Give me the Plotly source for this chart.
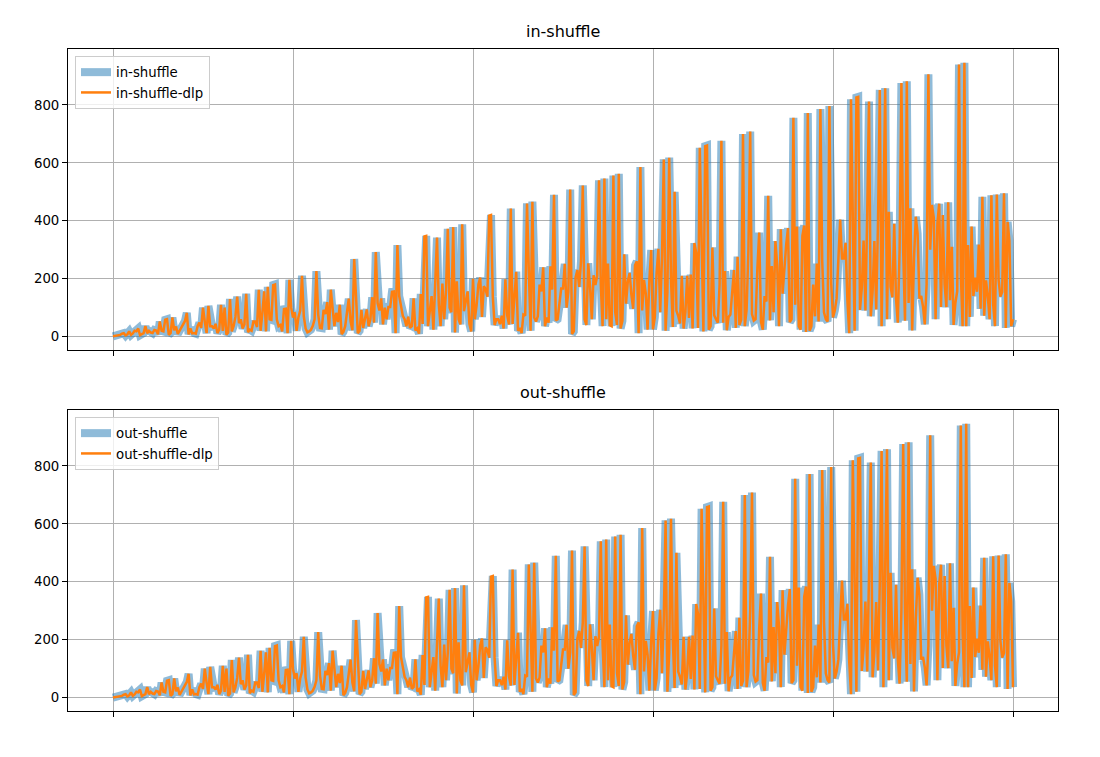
import plotly.graph_objects as go

# shuffles needed to restore a deck of 2n cards, n = 0..500
n_values = list(range(501))

in_shuffle = [
    1, 2, 4, 3, 6, 10, 12, 4, 8, 18,
    6, 11, 20, 18, 28, 5, 10, 12, 36, 12,
    20, 14, 12, 23, 21, 8, 52, 20, 18, 58,
    60, 6, 12, 66, 22, 35, 9, 20, 30, 39,
    54, 82, 8, 28, 11, 12, 10, 36, 48, 30,
    100, 51, 12, 106, 36, 36, 28, 44, 12, 24,
    110, 20, 100, 7, 14, 130, 18, 36, 68, 138,
    46, 60, 28, 42, 148, 15, 24, 20, 52, 52,
    33, 162, 20, 83, 156, 18, 172, 60, 58, 178,
    180, 60, 36, 40, 18, 95, 96, 12, 196, 99,
    66, 84, 20, 66, 90, 210, 70, 28, 15, 18,
    24, 37, 60, 226, 76, 30, 29, 92, 78, 119,
    24, 162, 84, 36, 82, 50, 110, 8, 16, 36,
    84, 131, 52, 22, 268, 135, 12, 20, 92, 30,
    70, 94, 36, 60, 136, 48, 292, 116, 90, 132,
    42, 100, 60, 102, 102, 155, 156, 12, 316, 140,
    106, 72, 60, 36, 69, 30, 36, 132, 21, 28,
    10, 147, 44, 346, 348, 36, 88, 140, 24, 179,
    342, 110, 36, 183, 60, 156, 372, 100, 84, 378,
    14, 191, 60, 42, 388, 88, 130, 156, 44, 18,
    200, 60, 108, 180, 204, 68, 174, 164, 138, 418,
    420, 138, 40, 60, 60, 43, 72, 28, 198, 73,
    42, 442, 44, 148, 224, 20, 30, 12, 76, 72,
    460, 231, 20, 466, 66, 52, 70, 180, 156, 239,
    36, 66, 48, 243, 162, 490, 56, 60, 105, 166,
    166, 251, 100, 156, 508, 9, 18, 204, 230, 172,
    260, 522, 60, 40, 253, 174, 60, 212, 178, 210,
    540, 180, 36, 546, 60, 252, 39, 36, 556, 84,
    40, 562, 28, 54, 284, 114, 190, 220, 144, 96,
    246, 260, 12, 586, 90, 196, 148, 24, 198, 299,
    25, 66, 220, 303, 84, 276, 612, 20, 154, 618,
    198, 33, 500, 90, 72, 45, 210, 28, 84, 210,
    64, 214, 28, 323, 290, 30, 652, 260, 18, 658,
    660, 24, 36, 308, 74, 60, 48, 180, 676, 48,
    226, 22, 68, 76, 156, 230, 30, 276, 40, 58,
    700, 36, 92, 300, 708, 78, 55, 60, 238, 359,
    51, 24, 140, 121, 486, 56, 244, 84, 330, 246,
    36, 371, 148, 246, 318, 375, 50, 60, 756, 110,
    380, 36, 24, 348, 384, 16, 772, 20, 36, 180,
    70, 252, 52, 786, 262, 84, 60, 52, 796, 184,
    66, 90, 132, 268, 404, 270, 270, 324, 126, 12,
    820, 411, 20, 826, 828, 92, 168, 332, 90, 419,
    812, 70, 156, 330, 94, 396, 852, 36, 428, 858,
    60, 431, 172, 136, 390, 132, 48, 300, 876, 292,
    55, 882, 116, 443, 21, 270, 414, 356, 132, 140,
    104, 42, 180, 906, 300, 455, 410, 60, 390, 459,
    102, 420, 180, 102, 464, 126, 310, 40, 117, 156,
    940, 220, 36, 946, 36, 316, 68, 380, 140, 204,
    155, 318, 96, 483, 72, 194, 138, 60, 488, 110,
    36, 491, 196, 138, 154, 495, 30, 396, 332, 36,
    60,
]

out_shuffle = [
    0,
    1, 2, 4, 3, 6, 10, 12, 4, 8, 18,
    6, 11, 20, 18, 28, 5, 10, 12, 36, 12,
    20, 14, 12, 23, 21, 8, 52, 20, 18, 58,
    60, 6, 12, 66, 22, 35, 9, 20, 30, 39,
    54, 82, 8, 28, 11, 12, 10, 36, 48, 30,
    100, 51, 12, 106, 36, 36, 28, 44, 12, 24,
    110, 20, 100, 7, 14, 130, 18, 36, 68, 138,
    46, 60, 28, 42, 148, 15, 24, 20, 52, 52,
    33, 162, 20, 83, 156, 18, 172, 60, 58, 178,
    180, 60, 36, 40, 18, 95, 96, 12, 196, 99,
    66, 84, 20, 66, 90, 210, 70, 28, 15, 18,
    24, 37, 60, 226, 76, 30, 29, 92, 78, 119,
    24, 162, 84, 36, 82, 50, 110, 8, 16, 36,
    84, 131, 52, 22, 268, 135, 12, 20, 92, 30,
    70, 94, 36, 60, 136, 48, 292, 116, 90, 132,
    42, 100, 60, 102, 102, 155, 156, 12, 316, 140,
    106, 72, 60, 36, 69, 30, 36, 132, 21, 28,
    10, 147, 44, 346, 348, 36, 88, 140, 24, 179,
    342, 110, 36, 183, 60, 156, 372, 100, 84, 378,
    14, 191, 60, 42, 388, 88, 130, 156, 44, 18,
    200, 60, 108, 180, 204, 68, 174, 164, 138, 418,
    420, 138, 40, 60, 60, 43, 72, 28, 198, 73,
    42, 442, 44, 148, 224, 20, 30, 12, 76, 72,
    460, 231, 20, 466, 66, 52, 70, 180, 156, 239,
    36, 66, 48, 243, 162, 490, 56, 60, 105, 166,
    166, 251, 100, 156, 508, 9, 18, 204, 230, 172,
    260, 522, 60, 40, 253, 174, 60, 212, 178, 210,
    540, 180, 36, 546, 60, 252, 39, 36, 556, 84,
    40, 562, 28, 54, 284, 114, 190, 220, 144, 96,
    246, 260, 12, 586, 90, 196, 148, 24, 198, 299,
    25, 66, 220, 303, 84, 276, 612, 20, 154, 618,
    198, 33, 500, 90, 72, 45, 210, 28, 84, 210,
    64, 214, 28, 323, 290, 30, 652, 260, 18, 658,
    660, 24, 36, 308, 74, 60, 48, 180, 676, 48,
    226, 22, 68, 76, 156, 230, 30, 276, 40, 58,
    700, 36, 92, 300, 708, 78, 55, 60, 238, 359,
    51, 24, 140, 121, 486, 56, 244, 84, 330, 246,
    36, 371, 148, 246, 318, 375, 50, 60, 756, 110,
    380, 36, 24, 348, 384, 16, 772, 20, 36, 180,
    70, 252, 52, 786, 262, 84, 60, 52, 796, 184,
    66, 90, 132, 268, 404, 270, 270, 324, 126, 12,
    820, 411, 20, 826, 828, 92, 168, 332, 90, 419,
    812, 70, 156, 330, 94, 396, 852, 36, 428, 858,
    60, 431, 172, 136, 390, 132, 48, 300, 876, 292,
    55, 882, 116, 443, 21, 270, 414, 356, 132, 140,
    104, 42, 180, 906, 300, 455, 410, 60, 390, 459,
    102, 420, 180, 102, 464, 126, 310, 40, 117, 156,
    940, 220, 36, 946, 36, 316, 68, 380, 140, 204,
    155, 318, 96, 483, 72, 194, 138, 60, 488, 110,
    36, 491, 196, 138, 154, 495, 30, 396, 332, 36,
]

# the discrete-log versions give the same counts
in_shuffle_dlp = list(in_shuffle)
out_shuffle_dlp = list(out_shuffle)

x_ticks = [0, 100, 200, 300, 400, 500]
y_ticks = [0, 200, 400, 600, 800]

W, H = 1100, 757
OFF = 8  # page body margin of the browser
color_thick = "rgba(31, 119, 180, 0.5)"
color_thin = "#ff7f0e"
font_family = "DejaVu Sans"


def px_x(p):
    return (p - OFF) / W


def px_y(p):
    return 1 - (p - OFF) / H


fig = go.Figure()
fig.add_trace(go.Scatter(x=n_values, y=in_shuffle, mode="lines",
                         line=dict(color=color_thick, width=8),
                         name="in-shuffle", xaxis="x", yaxis="y",
                         legend="legend"))
fig.add_trace(go.Scatter(x=n_values, y=in_shuffle_dlp, mode="lines",
                         line=dict(color=color_thin, width=2.5),
                         name="in-shuffle-dlp", xaxis="x", yaxis="y",
                         legend="legend"))
fig.add_trace(go.Scatter(x=n_values, y=out_shuffle, mode="lines",
                         line=dict(color=color_thick, width=8),
                         name="out-shuffle", xaxis="x2", yaxis="y2",
                         legend="legend2"))
fig.add_trace(go.Scatter(x=n_values, y=out_shuffle_dlp, mode="lines",
                         line=dict(color=color_thin, width=2.5),
                         name="out-shuffle-dlp", xaxis="x2", yaxis="y2",
                         legend="legend2"))

x_dom = [px_x(68), px_x(1058)]
common_x = dict(range=[-25, 525], tickvals=x_ticks, showticklabels=False,
                ticks="outside", ticklen=5, tickcolor="black",
                showgrid=True, gridcolor="#b0b0b0", gridwidth=1,
                showline=True, linecolor="black", linewidth=1, mirror=True,
                zeroline=False, domain=x_dom)
common_y = dict(range=[-46.3, 993.3], tickvals=y_ticks,
                ticks="outside", ticklen=5, tickcolor="black",
                tickfont=dict(size=13.3, color="black"),
                showgrid=True, gridcolor="#b0b0b0", gridwidth=1,
                showline=True, linecolor="black", linewidth=1, mirror=True,
                zeroline=False)

legend_style = dict(xanchor="left", yanchor="top",
                    bgcolor="rgba(255,255,255,0.8)", bordercolor="#cccccc",
                    borderwidth=1, font=dict(size=13.3, color="black"),
                    itemwidth=30, tracegroupgap=0)

fig.update_layout(
    width=W, height=H,
    margin=dict(l=0, r=0, t=0, b=0),
    paper_bgcolor="white", plot_bgcolor="white",
    font=dict(family=font_family, color="black"),
    xaxis=dict(common_x, anchor="y"),
    yaxis=dict(common_y, anchor="x", domain=[px_y(350), px_y(49)]),
    xaxis2=dict(common_x, anchor="y2"),
    yaxis2=dict(common_y, anchor="x2", domain=[px_y(711), px_y(410)]),
    legend=dict(legend_style, x=px_x(75), y=px_y(56)),
    legend2=dict(legend_style, x=px_x(75), y=px_y(417)),
    showlegend=True,
    annotations=[
        dict(text="in-shuffle", x=px_x(563), y=px_y(43), xref="paper",
             yref="paper", xanchor="center", yanchor="bottom",
             showarrow=False, font=dict(size=16, color="black")),
        dict(text="out-shuffle", x=px_x(563), y=px_y(404), xref="paper",
             yref="paper", xanchor="center", yanchor="bottom",
             showarrow=False, font=dict(size=16, color="black")),
    ],
)

fig.write_html("out.html")
